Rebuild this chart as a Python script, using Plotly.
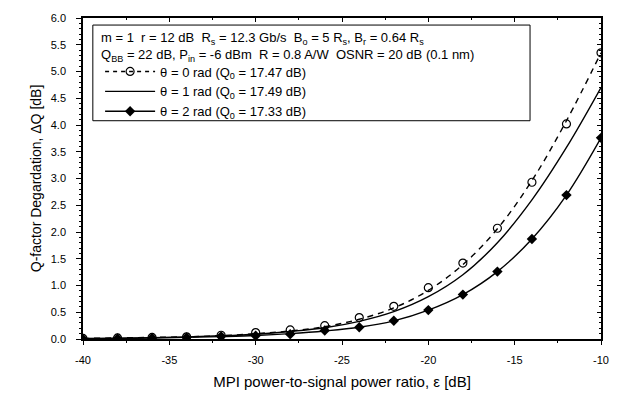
import plotly.graph_objects as go

# ---- data ----
eps_db = [-40, -38, -36, -34, -32, -30, -28, -26, -24, -22, -20, -18, -16, -14, -12, -10]

# simulated points
q_theta0_pts = [0.01, 0.02, 0.03, 0.04, 0.07, 0.12, 0.17, 0.25, 0.40, 0.61, 0.96, 1.42, 2.07, 2.93, 4.02, 5.35]
q_theta2_pts = [0.00, 0.01, 0.02, 0.03, 0.05, 0.06, 0.09, 0.16, 0.22, 0.34, 0.54, 0.83, 1.26, 1.87, 2.69, 3.76]

# theory curves
q_theta0_line = [0.01, 0.02, 0.03, 0.04, 0.06, 0.10, 0.15, 0.23, 0.37, 0.58, 0.91, 1.39, 2.06, 2.96, 4.08, 5.35]
q_theta1_line = [0.01, 0.015, 0.025, 0.04, 0.06, 0.09, 0.14, 0.21, 0.33, 0.51, 0.79, 1.20, 1.80, 2.60, 3.58, 4.70]
q_theta2_line = [0.00, 0.01, 0.02, 0.03, 0.045, 0.065, 0.10, 0.15, 0.22, 0.34, 0.54, 0.83, 1.26, 1.87, 2.69, 3.76]

legend_names = [
    "θ = 0 rad (Q<sub>0</sub> = 17.47 dB)",
    "θ = 1 rad (Q<sub>0</sub> = 17.49 dB)",
    "θ = 2 rad (Q<sub>0</sub> = 17.33 dB)",
]
header_lines = [
    "m = 1  r = 12 dB  R<sub>s</sub> = 12.3 Gb/s  B<sub>o</sub> = 5 R<sub>s</sub>, B<sub>r</sub> = 0.64 R<sub>s</sub>",
    "Q<sub>BB</sub> = 22 dB, P<sub>in</sub> = -6 dBm  R = 0.8 A/W  OSNR = 20 dB (0.1 nm)",
]

x_ticks = [-40, -35, -30, -25, -20, -15, -10]
y_ticks = [0.0, 0.5, 1.0, 1.5, 2.0, 2.5, 3.0, 3.5, 4.0, 4.5, 5.0, 5.5, 6.0]

FONT = "Liberation Sans, Arial, sans-serif"

fig = go.Figure()

# theta = 0 : dashed line with open circles
fig.add_trace(go.Scatter(
    x=eps_db, y=q_theta0_line, mode="lines", line=dict(color="black", width=1.4, dash="6px,5px", shape="spline"),
    name=legend_names[0], legendgroup="t0", showlegend=False, hoverinfo="skip"))
fig.add_trace(go.Scatter(
    x=eps_db, y=q_theta0_pts, mode="markers",
    marker=dict(symbol="circle-open", size=8, color="black", line=dict(width=1.2)),
    name=legend_names[0], legendgroup="t0", showlegend=False))
fig.add_trace(go.Scatter(
    x=[None], y=[None], mode="lines+markers",
    line=dict(color="black", width=1.4, dash="4px,4px"),
    marker=dict(symbol="circle-open", size=8, color="black", line=dict(width=1.2)),
    name=legend_names[0], legendgroup="t0", showlegend=True))

# theta = 1 : solid line
fig.add_trace(go.Scatter(
    x=eps_db, y=q_theta1_line, mode="lines", line=dict(color="black", width=1.4, shape="spline"),
    name=legend_names[1]))

# theta = 2 : solid line with filled diamonds
fig.add_trace(go.Scatter(
    x=eps_db, y=q_theta2_line, mode="lines", line=dict(color="black", width=1.4, shape="spline"),
    name=legend_names[2], legendgroup="t2", showlegend=False, hoverinfo="skip"))
fig.add_trace(go.Scatter(
    x=eps_db, y=q_theta2_pts, mode="markers",
    marker=dict(symbol="diamond", size=8, color="black"),
    name=legend_names[2], legendgroup="t2", showlegend=False))
fig.add_trace(go.Scatter(
    x=[None], y=[None], mode="lines+markers",
    line=dict(color="black", width=1.4),
    marker=dict(symbol="diamond", size=8, color="black"),
    name=legend_names[2], legendgroup="t2", showlegend=True))

# mirror axes for inside ticks on top/right
fig.add_trace(go.Scatter(x=[None], y=[None], xaxis="x2", yaxis="y2", showlegend=False))

axis_common = dict(showgrid=False, zeroline=False, showline=True, linecolor="black", linewidth=1.5,
                   tickcolor="black")

fig.update_layout(
    width=621, height=400,
    margin=dict(l=83, r=13, t=16, b=59),
    paper_bgcolor="white", plot_bgcolor="white",
    font=dict(family=FONT, color="black", size=11),
    xaxis=dict(range=[-40, -10], tickvals=x_ticks, ticktext=[str(v) for v in x_ticks],
               ticks="outside", ticklen=4, tickwidth=1, ticklabelstandoff=6,
               minor=dict(dtick=2.5, ticks="outside", ticklen=2, tickcolor="black"),
               tickfont=dict(size=11, family=FONT),
               title=dict(text="MPI power-to-signal power ratio, ε [dB]", font=dict(size=15, family=FONT), standoff=12),
               **axis_common),
    yaxis=dict(range=[0, 6.0], tickvals=y_ticks, ticktext=[f"{v:.1f}" for v in y_ticks],
               ticks="outside", ticklen=5, tickwidth=1, ticklabelstandoff=8,
               minor=dict(dtick=0.1, ticks="outside", ticklen=2, tickcolor="black"),
               tickfont=dict(size=11, family=FONT),
               title=dict(text="Q-factor Degardation, ΔQ [dB]", font=dict(size=14, family=FONT), standoff=6),
               **axis_common),
    xaxis2=dict(range=[-40, -10], overlaying="x", side="top", tickvals=x_ticks, showticklabels=False,
                ticks="inside", ticklen=4, minor=dict(dtick=2.5, ticks="inside", ticklen=2, tickcolor="black"),
                **axis_common),
    yaxis2=dict(range=[0, 6.0], overlaying="y", side="right", tickvals=y_ticks, showticklabels=False,
                ticks="inside", ticklen=4, minor=dict(dtick=0.1, ticks="inside", ticklen=2, tickcolor="black"),
                **axis_common),
    legend=dict(x=0.033, y=0.88, xanchor="left", yanchor="top", bgcolor="rgba(0,0,0,0)",
                font=dict(size=13, family=FONT), itemwidth=50, tracegroupgap=0),
    showlegend=True,
)

# legend box
fig.add_shape(type="rect", xref="paper", yref="paper", x0=0.019, x1=0.863, y0=0.68, y1=0.978,
              line=dict(color="black", width=1), fillcolor="rgba(0,0,0,0)")
fig.add_annotation(xref="paper", yref="paper", x=0.03, y=0.968, xanchor="left", yanchor="top",
                   text="<br>".join(header_lines), showarrow=False, align="left",
                   font=dict(size=13, family=FONT))

fig.write_html("out.html")
